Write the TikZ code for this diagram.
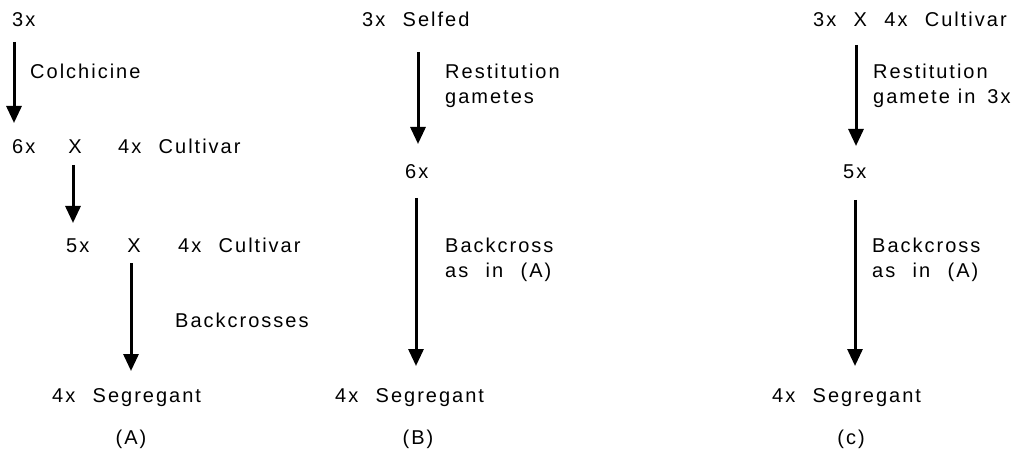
\documentclass[tikz,border=0pt]{standalone}
\usepackage{fontspec}
\setmainfont{Liberation Sans}[LetterSpace=10,WordSpace=2.3]
\usetikzlibrary{arrows.meta}
\begin{document}
\begin{tikzpicture}[x=1pt,y=-1pt,
  lbl/.style={anchor=base west,inner sep=0pt,font=\fontsize{20pt}{24pt}\selectfont},
  ctr/.style={lbl,anchor=base},
  flow/.style={line width=3pt,-{Triangle[width=15pt,length=17pt]}}]
\useasboundingbox (0,0) rectangle (1020,457);

% (A) chromosome doubling, then backcrossing
\node[lbl] (a3) at (12,27) {3x};
\coordinate (a1s) at (14,42);
\coordinate (a1e) at (14,123);
\draw[flow] (a1s) -- (a1e);
\node[lbl] (colch) at (30,79) {Colchicine};
\node[lbl] (a6) at (12,154) {6x};
\node[ctr] (ax1) at (75,154) {X};
\node[lbl] (acult1) at (118,154) {4x Cultivar};
\coordinate (a2s) at (73,165);
\coordinate (a2e) at (73,223);
\draw[flow] (a2s) -- (a2e);
\node[lbl] (a5) at (66,252) {5x};
\node[ctr] (ax2) at (134,252) {X};
\node[lbl] (acult2) at (178,252) {4x Cultivar};
\coordinate (a3s) at (131,263);
\coordinate (a3e) at (131,371);
\draw[flow] (a3s) -- (a3e);
\node[lbl] (abc) at (175,327) {Backcrosses};
\node[lbl] (aseg) at (52,402) {4x Segregant};
\node[ctr] (acap) at (131,444) {(A)};

% (B) selfing with restitution gametes
\node[lbl] (bself) at (362,27) {3x Selfed};
\coordinate (b1s) at (418,52);
\coordinate (b1e) at (418,144);
\draw[flow] (b1s) -- (b1e);
\node[lbl] (brest1) at (445,79) {Restitution};
\node[lbl] (brest2) at (445,104) {gametes};
\node[lbl] (b6) at (405,179) {6x};
\coordinate (b2s) at (416,198);
\coordinate (b2e) at (416,366);
\draw[flow] (b2s) -- (b2e);
\node[lbl] (bbc1) at (445,252) {Backcross};
\node[lbl] (bbc2) at (445,277) {as in (A)};
\node[lbl] (bseg) at (335,402) {4x Segregant};
\node[ctr] (bcap) at (418,444) {(B)};

% (C) triploid crossed with a tetraploid cultivar
\node[lbl] (ccross) at (813,27) {3x X 4x Cultivar};
\coordinate (c1s) at (856,45);
\coordinate (c1e) at (856,146);
\draw[flow] (c1s) -- (c1e);
\node[lbl] (crest1) at (873,79) {Restitution};
\node[lbl] (crest2) at (873,104) {gamete\hspace{8pt}in\hspace{12pt}3x};
\node[lbl] (c5) at (843,179) {5x};
\coordinate (c2s) at (855,200);
\coordinate (c2e) at (855,366);
\draw[flow] (c2s) -- (c2e);
\node[lbl] (cbc1) at (872,252) {Backcross};
\node[lbl] (cbc2) at (872,277) {as in (A)};
\node[lbl] (cseg) at (772,402) {4x Segregant};
\node[ctr] (ccap) at (851,444) {(c)};
\end{tikzpicture}
\end{document}
